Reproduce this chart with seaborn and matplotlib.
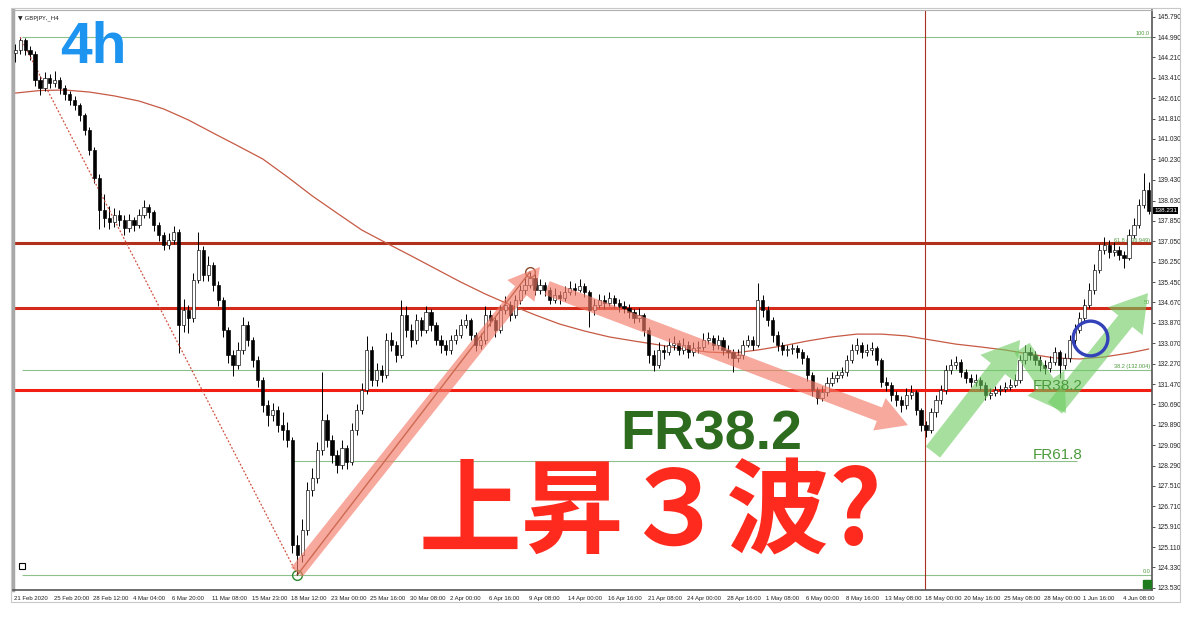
import numpy as np
import pandas as pd
import seaborn as sns
import matplotlib.pyplot as plt
import matplotlib.transforms as mtransforms
from matplotlib.patches import Rectangle

# GBPJPY, one candle per two 4h slots
first_open = 144.40
closes = [
    144.50, 144.89, 144.50, 144.34, 143.33, 143.02, 143.41, 143.21, 143.33, 143.02,
    142.78, 142.55, 142.36, 141.97, 141.38, 140.60, 139.51, 138.26, 137.95, 137.79,
    138.07, 137.87, 137.56, 137.87, 137.68, 138.07, 138.38, 138.18, 137.68, 137.29,
    136.90, 137.09, 137.40, 133.78, 134.36, 134.05, 135.53, 136.70, 135.73, 136.12,
    135.34, 134.75, 133.58, 132.61, 132.22, 132.80, 133.78, 133.19, 132.41, 131.63,
    130.66, 130.27, 130.46, 129.88, 129.68, 129.29, 125.20, 124.80, 125.78, 127.34,
    127.81, 128.90, 130.07, 129.29, 128.71, 128.32, 128.98, 128.43, 129.68, 130.46,
    131.24, 132.80, 131.63, 132.02, 131.83, 133.19, 133.00, 132.61, 134.17, 133.58,
    133.19, 133.97, 133.58, 134.28, 133.78, 133.19, 133.00, 132.80, 133.19, 133.39,
    133.78, 133.97, 133.39, 133.00, 133.19, 134.17, 133.97, 133.58, 134.36, 134.56,
    134.17, 134.75, 135.14, 135.34, 135.61, 135.14, 135.34, 135.14, 134.75, 134.95,
    134.83, 135.06, 135.22, 135.14, 135.30, 135.06, 134.36, 134.56, 134.75, 134.63,
    134.83, 134.63, 134.52, 134.44, 134.28, 134.05, 134.17, 133.58, 132.61, 132.22,
    132.80, 132.72, 133.00, 133.07, 132.80, 133.00, 132.72, 132.88, 132.92, 133.19,
    133.27, 133.00, 133.19, 132.80, 132.72, 132.49, 132.61, 133.00, 133.19, 133.00,
    134.75, 134.36, 133.97, 133.39, 133.00, 132.80, 132.84, 132.88, 132.72, 132.49,
    131.83, 131.24, 130.93, 131.16, 131.51, 131.71, 131.83, 131.94, 132.41, 132.80,
    133.00, 132.72, 132.80, 132.88, 132.41, 131.55, 131.44, 131.05, 130.85, 130.66,
    131.05, 131.16, 130.46, 129.88, 129.68, 130.38, 130.85, 131.24, 132.02, 132.22,
    132.33, 131.94, 131.71, 131.55, 131.63, 131.44, 131.05, 131.12, 131.24, 131.28,
    131.36, 131.44, 131.63, 132.41, 132.72, 132.61, 132.41, 132.22, 132.10, 132.33,
    132.72, 132.22, 132.49, 133.19, 133.58, 134.05, 134.56, 135.14, 135.92, 136.70,
    136.90, 136.62, 136.70, 136.51, 136.39, 137.29, 137.68, 138.46, 139.04, 138.23,
]
highs = [
    144.75, 145.00, 144.95, 144.65, 144.45, 143.50, 143.65, 143.55, 143.70, 143.45,
    143.15, 142.90, 142.70, 142.45, 142.05, 141.50, 140.70, 139.65, 138.90, 138.40,
    138.35, 138.25, 138.05, 138.10, 138.00, 138.30, 138.65, 138.50, 138.25, 137.80,
    137.40, 137.35, 137.65, 137.50, 134.80, 134.55, 135.80, 137.40, 136.85, 136.45,
    136.25, 135.50, 134.85, 133.70, 132.80, 133.10, 134.10, 133.95, 133.30, 132.55,
    131.75, 130.85, 130.75, 130.60, 130.40, 130.00, 129.40, 125.60, 126.20, 127.65,
    128.20, 129.20, 131.95, 130.30, 129.50, 128.90, 129.30, 129.10, 129.95, 130.70,
    131.50, 133.35, 132.95, 132.30, 132.20, 133.45, 133.50, 133.15, 134.75, 134.50,
    133.80, 134.20, 134.10, 134.50, 134.40, 133.90, 133.40, 133.20, 133.40, 133.60,
    134.00, 134.20, 134.05, 133.50, 133.45, 134.50, 134.35, 134.10, 134.55, 134.90,
    134.70, 134.95, 135.35, 135.60, 135.85, 135.75, 135.55, 135.45, 135.25, 135.20,
    135.10, 135.30, 135.50, 135.40, 135.55, 135.40, 135.15, 134.80, 135.00, 134.95,
    135.05, 134.95, 134.80, 134.70, 134.60, 134.40, 134.45, 134.25, 133.70, 132.80,
    133.10, 133.00, 133.25, 133.35, 133.20, 133.25, 133.15, 133.10, 133.15, 133.45,
    133.50, 133.40, 133.40, 133.30, 133.00, 132.85, 132.85, 133.20, 133.40, 133.35,
    135.40, 134.95, 134.50, 134.10, 133.55, 133.10, 133.00, 133.05, 133.00, 132.85,
    132.60, 131.95, 131.35, 131.40, 131.75, 131.95, 132.00, 132.15, 132.60, 133.05,
    133.25, 133.10, 133.05, 133.10, 132.95, 132.50, 131.75, 131.55, 131.20, 131.00,
    131.30, 131.45, 131.25, 130.55, 130.05, 130.55, 131.05, 131.45, 132.20, 132.45,
    132.55, 132.45, 132.05, 131.85, 131.85, 131.75, 131.55, 131.30, 131.40, 131.45,
    131.55, 131.65, 131.85, 132.60, 133.00, 132.90, 132.75, 132.55, 132.40, 132.55,
    132.90, 132.80, 132.70, 133.40, 133.80, 134.30, 134.80, 135.40, 136.15, 136.95,
    137.20, 137.10, 137.00, 136.85, 136.65, 137.50, 137.95, 138.70, 139.70, 139.35,
]
lows = [
    144.05, 144.35, 144.30, 144.10, 143.10, 142.75, 142.90, 143.00, 143.05, 142.80,
    142.55, 142.35, 142.15, 141.75, 141.20, 140.40, 139.30, 137.50, 137.60, 137.50,
    137.60, 137.65, 137.30, 137.40, 137.45, 137.55, 137.95, 137.95, 137.45, 137.05,
    136.70, 136.75, 136.95, 132.70, 133.50, 133.45, 133.90, 135.40, 135.50, 135.50,
    135.10, 134.50, 133.30, 132.30, 131.80, 132.05, 132.65, 132.95, 132.15, 131.35,
    130.40, 129.85, 130.05, 129.60, 129.30, 129.00, 124.90, 124.03, 124.55, 125.60,
    127.10, 127.60, 128.70, 129.00, 128.40, 128.00, 128.15, 128.15, 128.30, 129.50,
    130.30, 131.10, 131.40, 131.40, 131.55, 131.70, 132.75, 132.35, 132.50, 133.30,
    132.90, 133.05, 133.35, 133.45, 133.55, 133.00, 132.70, 132.60, 132.65, 133.05,
    133.25, 133.65, 133.20, 132.75, 132.85, 133.05, 133.75, 133.30, 133.45, 134.20,
    133.95, 134.05, 134.60, 135.00, 135.20, 134.95, 135.00, 134.90, 134.60, 134.65,
    134.60, 134.70, 134.95, 134.95, 135.05, 134.85, 133.70, 134.15, 134.45, 134.40,
    134.50, 134.45, 134.30, 134.25, 134.05, 133.85, 133.90, 133.35, 132.30, 132.00,
    132.10, 132.45, 132.60, 132.80, 132.60, 132.65, 132.50, 132.55, 132.70, 132.80,
    133.05, 132.80, 132.85, 132.60, 132.50, 131.95, 132.35, 132.45, 132.90, 132.80,
    132.90, 134.10, 133.75, 133.10, 132.75, 132.60, 132.55, 132.65, 132.50, 132.25,
    131.60, 131.00, 130.70, 130.80, 131.00, 131.40, 131.55, 131.70, 131.80, 132.30,
    132.65, 132.50, 132.55, 132.60, 132.20, 131.35, 131.20, 130.80, 130.60, 130.40,
    130.50, 130.90, 130.25, 129.65, 129.40, 129.55, 130.20, 130.70, 131.10, 131.85,
    132.05, 131.75, 131.50, 131.35, 131.40, 131.25, 130.85, 130.90, 131.00, 131.05,
    131.15, 131.25, 131.35, 131.50, 132.25, 132.40, 132.20, 132.00, 131.85, 131.95,
    132.20, 131.70, 132.05, 132.35, 133.05, 133.45, 133.90, 134.45, 135.00, 135.80,
    136.55, 136.40, 136.45, 136.30, 136.00, 136.30, 137.15, 137.55, 138.35, 138.10,
]

# moving average, read every 5 candles
ma_bars = [0, 5, 10, 15, 20, 25, 30, 35, 40, 45, 50, 55, 60, 65, 70, 75, 80, 85,
           90, 95, 100, 105, 110, 115, 120, 125, 130, 135, 140, 145, 150, 155, 160,
           165, 170, 175, 180, 185, 190, 195, 200, 205, 210, 215, 220, 225, 229]
ma_values = [142.82, 142.92, 142.94, 142.86, 142.71, 142.51, 142.20, 141.77, 141.26,
             140.76, 140.25, 139.55, 138.81, 138.14, 137.48, 136.97, 136.47, 135.96,
             135.45, 134.98, 134.56, 134.17, 133.81, 133.54, 133.31, 133.15, 133.00,
             132.84, 132.72, 132.68, 132.80, 132.96, 133.15, 133.31, 133.42, 133.42,
             133.35, 133.19, 133.03, 132.92, 132.80, 132.64, 132.49, 132.45, 132.53,
             132.68, 132.84]

date_labels = ["21 Feb 2020", "25 Feb 20:00", "28 Feb 12:00", "4 Mar 04:00", "6 Mar 20:00",
               "11 Mar 08:00", "15 Mar 23:00", "18 Mar 12:00", "23 Mar 00:00", "25 Mar 16:00",
               "30 Mar 08:00", "2 Apr 00:00", "6 Apr 16:00", "9 Apr 08:00", "14 Apr 00:00",
               "16 Apr 16:00", "21 Apr 08:00", "24 Apr 00:00", "28 Apr 16:00", "1 May 08:00",
               "6 May 00:00", "8 May 16:00", "13 May 08:00", "18 May 00:00", "20 May 16:00",
               "25 May 08:00", "28 May 00:00", "1 Jun 16:00", "4 Jun 08:00"]
price_ticks = [145.790, 144.990, 144.210, 143.410, 142.610, 141.810, 141.030, 140.230,
               139.430, 138.630, 137.850, 137.050, 136.250, 135.450, 134.670, 133.870,
               133.070, 132.270, 131.470, 130.690, 129.890, 129.090, 128.290, 127.510,
               126.710, 125.910, 125.110, 124.330, 123.530]

red_levels = [136.98, 134.44, 131.25]
red_colors = ['#B0301C', '#D42A1A', '#F21E14']
fib_levels = [144.99, 136.949, 134.51, 132.004, 124.03]
fib_texts = ['100.0', '61.8 (136.949)', '50', '38.2 (132.004)', '0.0']
fr618_level = 128.48
last_price = 138.231

df = pd.DataFrame({'close': closes, 'high': highs, 'low': lows})
df['open'] = [first_open] + closes[:-1]
df['slot'] = np.arange(len(df)) * 2 + 0.5

sns.set_style("white")
plt.rcParams['font.family'] = ['Liberation Sans', 'DejaVu Sans']

fig = plt.figure(figsize=(12, 6.19), dpi=100)
ax = fig.add_axes([13 / 1200, 1 - 590 / 619, 1139 / 1200, 580 / 619])
ax.set_xlim(-0.4, 459.8)
ax.set_ylim(123.44, 146.06)

# horizontal levels
for lvl, c in zip(red_levels, red_colors):
    ax.axhline(lvl, color=c, lw=2.2, zorder=2)
ax.hlines([144.99, 132.004, 124.03], 3.2, 459.8, color='#8CC08C', lw=0.8, zorder=1)
ax.hlines(fr618_level, 112.7, 429.5, color='#8CC08C', lw=0.8, zorder=1)
for lvl, t in zip(fib_levels, fib_texts):
    ax.text(459, lvl + 0.04, t, ha='right', va='bottom', fontsize=4, color='#4C9A3C', zorder=2)
ax.axvline(368, color='#A83222', lw=0.8, zorder=1)

# moving average
sns.lineplot(x=np.array(ma_bars) * 2 + 0.5, y=ma_values, ax=ax, color='#C65A44', lw=0.9, zorder=2)

# candles
up = df['close'] >= df['open']
ax.vlines(df['slot'], df['low'], df['high'], color='black', lw=0.7, zorder=3)
ax.bar(df['slot'], (df['close'] - df['open']).abs(), bottom=df[['open', 'close']].min(axis=1),
       width=1.3, color=np.where(up, 'white', 'black'), edgecolor='black', linewidth=0.45, zorder=4)

# swing high -> low dotted fib line, low -> high line
hi_i, lo_i, top_i = 1, 57, 104
ax.plot([df.slot[hi_i], df.slot[lo_i]], [df.high[hi_i], df.low[lo_i]], ls=(0, (1.5, 1.5)),
        color='#D05040', lw=0.9, zorder=3)
ax.plot([df.slot[lo_i], df.slot[top_i]], [df.low[lo_i], df.high[top_i]], color='#8B4A2B', lw=1.0, zorder=3)
ax.plot(df.slot[lo_i], df.low[lo_i], 'o', ms=7, mfc='none', mec='#2E8B2E', mew=1, zorder=6)
ax.plot(df.slot[top_i], df.high[top_i], 'o', ms=7, mfc='none', mec='#8B4A2B', mew=1, zorder=6)

# arrows
def arrow(tail, head, fc, alpha, tw, hw, hl):
    ax.annotate('', xy=head, xytext=tail, zorder=7,
                arrowprops=dict(arrowstyle=f'simple,head_length={hl},head_width={hw},tail_width={tw}',
                                mutation_scale=10, fc=fc, ec='none', alpha=alpha,
                                shrinkA=0, shrinkB=0))

salmon = '#F27B68'
green = '#6CCB5F'
arrow((114.3, 124.14), (212.5, 136.04), salmon, 0.65, 1.05, 2.5, 2.2)
arrow((215.4, 135.22), (361.2, 129.87), salmon, 0.65, 1.05, 2.5, 2.2)
arrow((371.3, 128.82), (406.5, 133.19), green, 0.6, 1.3, 3.2, 2.6)
arrow((407.3, 132.88), (425.1, 130.34), green, 0.6, 1.3, 3.2, 2.6)
arrow((420.6, 130.54), (458.2, 135.02), green, 0.6, 1.3, 3.2, 2.6)

ax.plot(434.7, 133.27, 'o', ms=25, mfc='none', mec='#3342B8', mew=2.4, zorder=8)

# axes styling
ax.yaxis.tick_right()
ax.set_yticks(price_ticks)
ax.set_yticklabels([f'{v:.3f}' for v in price_ticks], fontsize=4.8, color='#222222')
ax.set_xticks(np.arange(len(date_labels)) * 16)
ax.set_xticklabels(date_labels, fontsize=4.3, color='#222222', ha='left')
ax.tick_params(axis='both', length=2.5, width=0.6, pad=1.5, colors='#333333', labelcolor='#222222')
for side in ['right', 'bottom']:
    ax.spines[side].set_color('#555555')
    ax.spines[side].set_linewidth(1.2)
ax.spines['left'].set_color('#A8A8A8')
ax.spines['left'].set_linewidth(2.5)
ax.spines['top'].set_color('#B0B0B0')
ax.spines['top'].set_linewidth(0.8)
ax.set_xlabel('')
ax.set_ylabel('')

blend = mtransforms.blended_transform_factory(ax.transAxes, ax.transData)
ax.text(1.002, last_price, '138.231', transform=blend, ha='left', va='center', fontsize=4.6,
        color='white', bbox=dict(fc='black', ec='none', pad=0.8), zorder=9, clip_on=False)
ax.text(0.004, 0.991, '\u25bc GBPJPY,_H4', transform=ax.transAxes, fontsize=4.3,
        va='top', ha='left', color='#222222', family=['DejaVu Sans'])
ax.plot(0.0083, 0.042, 's', ms=5, mfc='white', mec='black', mew=0.8, transform=ax.transAxes)
ax.plot(0.9958, 0.0095, 's', ms=6, color='#1E7B1E', transform=ax.transAxes, clip_on=False, zorder=9)

# window frame
fig.add_artist(Rectangle((11 / 1200, 1 - 602 / 619), 1169 / 1200, 594 / 619,
                         transform=fig.transFigure, fill=False, ec='#C8C8C8', lw=0.8))

# overlay captions
fig.text(60 / 1200, 1 - 63 / 619, '4h', fontsize=41, fontweight='bold', color='#1C94F0', va='baseline')
fig.text(620 / 1200, 1 - 450 / 619, 'FR38.2', fontsize=40, fontweight='bold', color='#2D6B1E', va='baseline')
fig.text(1033 / 1200, 1 - 390 / 619, 'FR38.2', fontsize=11, color='#4C9A3C', va='baseline')
fig.text(1033 / 1200, 1 - 459 / 619, 'FR61.8', fontsize=11, color='#4C9A3C', va='baseline')
fig.text(650 / 1200, 1 - 515 / 619, '上昇３波?', fontsize=74, fontweight='bold', color='#FF2A1E',
         ha='center', va='center', family=['Noto Sans CJK JP', 'DejaVu Sans'])

fig.savefig('out.png', dpi=100, facecolor='white')
